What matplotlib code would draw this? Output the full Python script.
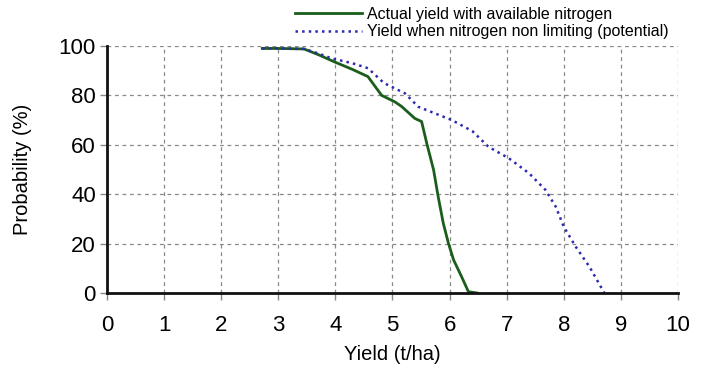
# yield probability of exceedance chart
import matplotlib.pyplot as plt
import numpy as np

# actual yield with available nitrogen
actual_yield = [2.72, 3.00, 3.45, 3.70, 3.98, 4.30, 4.57, 4.81, 5.04, 5.16, 5.39, 5.51,
                5.60, 5.72, 5.80, 5.89, 5.98, 6.07, 6.21, 6.33, 6.48]
actual_prob = [99.0, 99.0, 98.8, 96.5, 93.6, 90.5, 87.6, 80.0, 77.4, 75.5, 70.7, 69.4,
               60.6, 49.8, 39.0, 28.2, 20.1, 13.4, 6.6, 0.5, 0.0]

# potential yield (nitrogen non limiting)
potential_yield = [2.72, 3.00, 3.45, 3.70, 3.93, 4.30, 4.57, 4.85, 5.22, 5.45, 6.04, 6.40,
                   6.68, 7.04, 7.39, 7.68, 7.86, 8.00, 8.21, 8.45, 8.71]
potential_prob = [99.0, 99.0, 98.8, 97.0, 95.0, 93.0, 91.0, 85.0, 80.8, 75.4, 70.0, 65.5,
                  59.2, 54.5, 48.5, 41.7, 34.9, 26.8, 18.7, 10.6, 0.0]

x_ticks = np.arange(0, 11, 1)
y_ticks = [0, 20, 40, 60, 80, 100]

plt.rcParams['font.family'] = ['Liberation Sans', 'DejaVu Sans']

fig = plt.figure(figsize=(7.02, 3.72), dpi=100)
ax = fig.add_axes([0.1524, 0.2124, 0.8134, 0.664])

ax.plot(actual_yield, actual_prob, color='#1b5e1b', linewidth=2.0,
        label='Actual yield with available nitrogen')
ax.plot(potential_yield, potential_prob, color='#2b2bb0', linewidth=1.8, linestyle=':',
        label='Yield when nitrogen non limiting (potential)')

ax.set_xlim(0, 10)
ax.set_ylim(0, 100)
ax.set_xticks(x_ticks)
ax.set_yticks(y_ticks)
ax.tick_params(labelsize=16, length=5, width=1, color='#888888')
ax.tick_params(axis='x', pad=11)
ax.tick_params(axis='y', pad=3)
ax.set_xlabel('Yield (t/ha)', fontsize=14.5, labelpad=6)
ax.set_ylabel('Probability (%)', fontsize=14.5, labelpad=19)

ax.grid(True, color='#888888', linestyle=(0, (3, 3)), linewidth=0.9)
ax.set_axisbelow(True)
for s in ['top', 'right']:
  ax.spines[s].set_visible(False)
for s in ['left', 'bottom']:
  ax.spines[s].set_linewidth(2.0)
  ax.spines[s].set_color('#111111')

handles, labels = ax.get_legend_handles_labels()
leg = fig.legend(handles, labels, loc='upper left', bbox_to_anchor=(295 / 702, 1 - 7 / 372),
                 fontsize=11.5, frameon=False, handlelength=4.2, handletextpad=0.3,
                 labelspacing=0.15, borderpad=0, borderaxespad=0)

fig.savefig('out.png', dpi=100)
